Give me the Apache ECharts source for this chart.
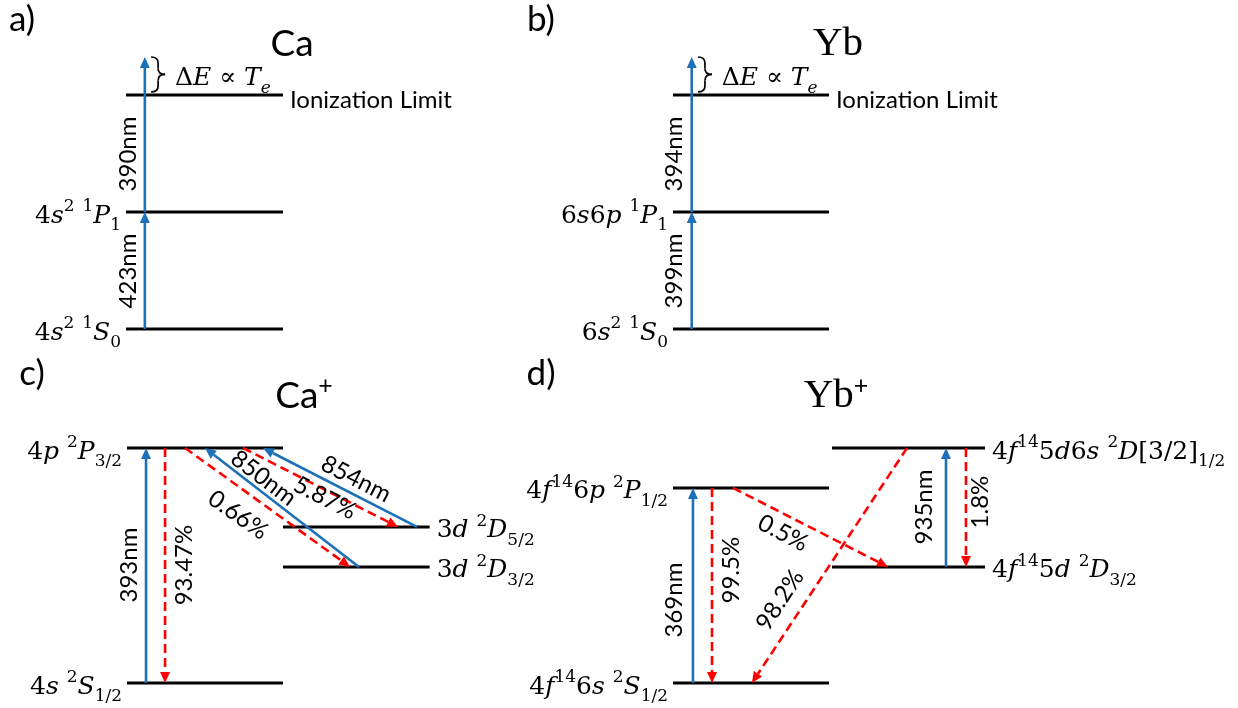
<!DOCTYPE html>
<html>
<head>
<meta charset="utf-8">
<script src="https://cdn.jsdelivr.net/npm/echarts@6/dist/echarts.min.js"></script>
<style>
  html, body { margin: 0; padding: 0; background: #fff; }
  #chart { width: 1238px; height: 708px; }
</style>
</head>
<body>
<div id="chart"></div>
<script>
// ---------------- level data (schematic energies, relative units) ----------------
// a) neutral Ca, two-step photo-ionization
const caTerms = ['4s^{2} ^{1}S_{0}', '4s^{2} ^{1}P_{1}', 'Ionization Limit'];
const caEnergy = [0, 1, 2];
const caPumps = ['423nm', '390nm'];

// b) neutral Yb, two-step photo-ionization
const ybTerms = ['6s^{2} ^{1}S_{0}', '6s6p ^{1}P_{1}', 'Ionization Limit'];
const ybEnergy = [0, 1, 2];
const ybPumps = ['399nm', '394nm'];

// energy reached by the second photon, just above the limit
const continuumEnergy = 2.325;

// c) Ca+ cooling and repumping scheme
const caIonTerms = ['4s ^{2}S_{1/2}', '4p ^{2}P_{3/2}', '3d ^{2}D_{5/2}', '3d ^{2}D_{3/2}'];
const caIonEnergy = [0, 1, 0.664, 0.494];
const caIonLasers = ['393nm', '850nm', '854nm'];
const caIonBranching = ['93.47%', '0.66%', '5.87%'];

// d) Yb+ cooling and repumping scheme
const ybIonTerms = ['4f^{14}6s ^{2}S_{1/2}', '4f^{14}6p ^{2}P_{1/2}', '4f^{14}5d6s ^{2}D[3/2]_{1/2}', '4f^{14}5d ^{2}D_{3/2}'];
const ybIonEnergy = [0, 0.83, 1, 0.494];
const ybIonLasers = ['369nm', '935nm'];
const ybIonBranching = ['99.5%', '0.5%', '98.2%', '1.8%'];

// ---------------- styling ----------------
const SERIF = '"DejaVu Serif", serif';
const SANS = 'Lato, "Open Sans", sans-serif';
const BLUE = '#1d71b8';
const RED = '#ff0000';
const SANS_FONT = '24px ' + SANS;
const MATH_FONT = '25px ' + SERIF;

// term symbols: letters italic, digits upright, ^{..} superscript, _{..} subscript
const MATH_RICH = {
  mr: { fontFamily: SERIF, fontSize: 25, lineHeight: 36, fill: '#000' },
  mi: { fontFamily: SERIF, fontSize: 25, lineHeight: 36, fontStyle: 'italic', fill: '#000' },
  sr: { fontFamily: SERIF, fontSize: 17, lineHeight: 19, verticalAlign: 'top', fill: '#000' },
  si: { fontFamily: SERIF, fontSize: 17, lineHeight: 19, verticalAlign: 'top', fontStyle: 'italic', fill: '#000' },
  br: { fontFamily: SERIF, fontSize: 17, lineHeight: 19, verticalAlign: 'bottom', fill: '#000' },
  bi: { fontFamily: SERIF, fontSize: 17, lineHeight: 19, verticalAlign: 'bottom', fontStyle: 'italic', fill: '#000' }
};

function mathText(src) {
  const toks = [];
  let mode = 'm';
  for (let i = 0; i < src.length; i++) {
    const c = src[i];
    if ((c === '^' || c === '_') && src[i + 1] === '{') { mode = c === '^' ? 's' : 'b'; i++; continue; }
    if (c === '}' && mode !== 'm') { mode = 'm'; continue; }
    const style = mode + (/[A-Za-z]/.test(c) ? 'i' : 'r');
    const last = toks[toks.length - 1];
    if (last && last.s === style) last.t += c; else toks.push({ s: style, t: c });
  }
  return toks.map(t => '{' + t.s + '|' + t.t + '}').join('');
}

// ---------------- panel layouts (x in units of one level width) ----------------
const panels = [
  { // a) Ca
    grid: { left: 126, top: 95, width: 157, height: 234 }, y: [0, 2],
    levels: [
      { x: [0, 1], E: caEnergy[0], term: caTerms[0], side: 'left' },
      { x: [0, 1], E: caEnergy[1], term: caTerms[1], side: 'left' },
      { x: [0, 1], E: caEnergy[2], term: caTerms[2], side: 'right', sans: true }
    ],
    pumps: [[0.12, caEnergy[0], 0.12, caEnergy[1]], [0.12, caEnergy[1], 0.12, continuumEnergy]],
    decays: [],
    texts: [
      { text: caPumps[0], at: [0.013, 0.496], rot: 90 },
      { text: caPumps[1], at: [0.013, 1.496], rot: 90 }
    ],
    brace: [0.16, 2.026, continuumEnergy], deltaE: [0.312, 2.14]
  },
  { // b) Yb
    grid: { left: 673, top: 95, width: 156, height: 234 }, y: [0, 2],
    levels: [
      { x: [0, 1], E: ybEnergy[0], term: ybTerms[0], side: 'left' },
      { x: [0, 1], E: ybEnergy[1], term: ybTerms[1], side: 'left' },
      { x: [0, 1], E: ybEnergy[2], term: ybTerms[2], side: 'right', sans: true }
    ],
    pumps: [[0.12, ybEnergy[0], 0.12, ybEnergy[1]], [0.12, ybEnergy[1], 0.12, continuumEnergy]],
    decays: [],
    texts: [
      { text: ybPumps[0], at: [0.006, 0.496], rot: 90 },
      { text: ybPumps[1], at: [0.006, 1.496], rot: 90 }
    ],
    brace: [0.16, 2.026, continuumEnergy], deltaE: [0.312, 2.14]
  },
  { // c) Ca+
    grid: { left: 127, top: 448, width: 156, height: 235 }, y: [0, 1],
    levels: [
      { x: [0, 1], E: caIonEnergy[0], term: caIonTerms[0], side: 'left' },
      { x: [0, 1], E: caIonEnergy[1], term: caIonTerms[1], side: 'left' },
      { x: [1, 1.94], E: caIonEnergy[2], term: caIonTerms[2], side: 'right' },
      { x: [1, 1.94], E: caIonEnergy[3], term: caIonTerms[3], side: 'right' }
    ],
    pumps: [
      [0.122, caIonEnergy[0], 0.122, caIonEnergy[1]],
      [1.487, caIonEnergy[3], 0.5, caIonEnergy[1]],
      [1.859, caIonEnergy[2], 0.872, caIonEnergy[1]]
    ],
    decays: [
      [0.244, caIonEnergy[1], 0.244, caIonEnergy[0]],
      [0.372, caIonEnergy[1], 1.43, caIonEnergy[3]],
      [0.744, caIonEnergy[1], 1.737, caIonEnergy[2]]
    ],
    texts: [
      { text: caIonLasers[0], at: [0.013, 0.502], rot: 90 },
      { text: caIonBranching[0], at: [0.369, 0.502], rot: 90 },
      { text: caIonBranching[1], at: [0.712, 0.715], rot: -35 },
      { text: caIonLasers[1], at: [0.875, 0.872], rot: -37 },
      { text: caIonBranching[2], at: [1.269, 0.787], rot: -27 },
      { text: caIonLasers[2], at: [1.468, 0.868], rot: -27 }
    ]
  },
  { // d) Yb+
    grid: { left: 673, top: 448, width: 156, height: 235 }, y: [0, 1],
    levels: [
      { x: [0, 1], E: ybIonEnergy[0], term: ybIonTerms[0], side: 'left' },
      { x: [0, 1], E: ybIonEnergy[1], term: ybIonTerms[1], side: 'left' },
      { x: [1.019, 2.0], E: ybIonEnergy[2], term: ybIonTerms[2], side: 'right' },
      { x: [1.019, 2.0], E: ybIonEnergy[3], term: ybIonTerms[3], side: 'right' }
    ],
    pumps: [
      [0.128, ybIonEnergy[0], 0.128, ybIonEnergy[1]],
      [1.75, ybIonEnergy[3], 1.75, ybIonEnergy[2]]
    ],
    decays: [
      [0.25, ybIonEnergy[1], 0.25, ybIonEnergy[0]],
      [0.385, ybIonEnergy[1], 1.378, ybIonEnergy[3]],
      [1.5, ybIonEnergy[2], 0.506, ybIonEnergy[0]],
      [1.878, ybIonEnergy[2], 1.878, ybIonEnergy[3]]
    ],
    texts: [
      { text: ybIonLasers[0], at: [0.006, 0.353], rot: 90 },
      { text: ybIonBranching[0], at: [0.372, 0.48], rot: 90 },
      { text: ybIonBranching[1], at: [0.705, 0.638], rot: -27 },
      { text: ybIonBranching[2], at: [0.686, 0.353], rot: 57 },
      { text: ybIonLasers[1], at: [1.609, 0.749], rot: 90 },
      { text: ybIonBranching[3], at: [1.968, 0.77], rot: 90 }
    ]
  }
];

// ---------------- series builders ----------------
function levelSeries(i, p) {
  return {
    type: 'custom', coordinateSystem: 'cartesian2d', xAxisIndex: i, yAxisIndex: i,
    silent: true, clip: false,
    data: p.levels.map(l => [l.x[0], l.x[1], l.E]),
    renderItem(params, api) {
      const a = api.coord([api.value(0), api.value(2)]);
      const b = api.coord([api.value(1), api.value(2)]);
      return { type: 'line', shape: { x1: a[0], y1: a[1], x2: b[0], y2: b[1] },
        style: { stroke: '#000', lineWidth: 3 } };
    }
  };
}

function arrowSeries(i, rows, color, dashed) {
  return {
    type: 'custom', coordinateSystem: 'cartesian2d', xAxisIndex: i, yAxisIndex: i,
    silent: true, clip: false,
    data: rows,
    renderItem(params, api) {
      const a = api.coord([api.value(0), api.value(1)]);
      const b = api.coord([api.value(2), api.value(3)]);
      const dx = b[0] - a[0], dy = b[1] - a[1];
      const len = Math.hypot(dx, dy), ux = dx / len, uy = dy / len;
      const L = 11, W = 5;
      const bx = b[0] - ux * L, by = b[1] - uy * L;
      return { type: 'group', children: [
        { type: 'line', shape: { x1: a[0], y1: a[1], x2: bx, y2: by },
          style: { stroke: color, lineWidth: 2.6, lineDash: dashed ? [9, 5] : null } },
        { type: 'polygon', shape: { points: [[b[0], b[1]], [bx - uy * W, by + ux * W], [bx + uy * W, by - ux * W]] },
          style: { fill: color } }
      ] };
    }
  };
}

function textSeries(i, items) {
  return {
    type: 'custom', coordinateSystem: 'cartesian2d', xAxisIndex: i, yAxisIndex: i,
    silent: true, clip: false,
    data: items.map(t => [t.at[0], t.at[1]]),
    renderItem(params, api) {
      const t = items[params.dataIndex];
      const p = api.coord([api.value(0), api.value(1)]);
      return { type: 'text', x: p[0] + (t.dx || 0), y: p[1] + (t.dy || 0),
        rotation: (t.rot || 0) * Math.PI / 180,
        style: { text: t.text, rich: t.rich, font: t.font || SANS_FONT,
          align: t.align || 'center', verticalAlign: 'middle', fill: '#000' } };
    }
  };
}

function braceSeries(i, p) {
  return {
    type: 'custom', coordinateSystem: 'cartesian2d', xAxisIndex: i, yAxisIndex: i,
    silent: true, clip: false,
    data: [p.brace],
    renderItem(params, api) {
      const bot = api.coord([api.value(0), api.value(1)]);
      const top = api.coord([api.value(0), api.value(2)]);
      const x = bot[0], yB = bot[1], yT = top[1], yM = (yB + yT) / 2, w = 14, r = 6, xm = x + w / 2;
      const st = { stroke: '#000', lineWidth: 1.7, fill: null };
      return { type: 'group', children: [
        { type: 'bezierCurve', shape: { x1: x, y1: yT, cpx1: xm, cpy1: yT, x2: xm, y2: yT + r }, style: st },
        { type: 'line', shape: { x1: xm, y1: yT + r, x2: xm, y2: yM - r }, style: st },
        { type: 'bezierCurve', shape: { x1: xm, y1: yM - r, cpx1: xm, cpy1: yM, x2: x + w, y2: yM }, style: st },
        { type: 'bezierCurve', shape: { x1: x + w, y1: yM, cpx1: xm, cpy1: yM, x2: xm, y2: yM + r }, style: st },
        { type: 'line', shape: { x1: xm, y1: yM + r, x2: xm, y2: yB - r }, style: st },
        { type: 'bezierCurve', shape: { x1: xm, y1: yB - r, cpx1: xm, cpy1: yB, x2: x, y2: yB }, style: st }
      ] };
    }
  };
}

// ---------------- assemble ----------------
const grids = [], xAxes = [], yAxes = [], series = [];
panels.forEach((p, i) => {
  grids.push(Object.assign({ containLabel: false }, p.grid));
  xAxes.push({ type: 'value', gridIndex: i, min: 0, max: 1, show: false });
  yAxes.push({ type: 'value', gridIndex: i, min: p.y[0], max: p.y[1], show: false });

  series.push(levelSeries(i, p));
  series.push(arrowSeries(i, p.pumps, BLUE, false));
  series.push(arrowSeries(i, p.decays, RED, true));

  const texts = p.texts.map(t => Object.assign({}, t));
  p.levels.forEach(l => {
    const side = l.side === 'left';
    const item = { at: [side ? l.x[0] : l.x[1], l.E], align: side ? 'right' : 'left', dx: side ? -5 : 7, dy: 4 };
    if (l.sans) { item.text = l.term; item.font = SANS_FONT; item.dy = 5; }
    else { item.text = mathText(l.term); item.rich = MATH_RICH; item.font = MATH_FONT; }
    texts.push(item);
  });
  if (p.deltaE) {
    texts.push({ at: p.deltaE, align: 'left', font: MATH_FONT, rich: MATH_RICH,
      text: '{mr|Δ}{mi|E}{mr| ∝ }{mi|T}{bi|e}' });
    series.push(braceSeries(i, p));
  }
  series.push(textSeries(i, texts));
});

const titleRich = {
  t: { fontFamily: SANS, fontSize: 37, lineHeight: 46, fill: '#000' },
  ts: { fontFamily: '"Liberation Serif", serif', fontSize: 41, lineHeight: 46, fill: '#000' },
  p: { fontFamily: SANS, fontSize: 25, lineHeight: 26, verticalAlign: 'top', fill: '#000' }
};
function label(text, x, y, font) {
  return { type: 'text', x: x, y: y, silent: true,
    style: { text: text, font: font, align: 'center', verticalAlign: 'middle', fill: '#000', rich: titleRich } };
}

const chart = echarts.init(document.getElementById('chart'), null, { renderer: 'canvas' });
chart.setOption({
  backgroundColor: '#fff',
  animation: false,
  grid: grids, xAxis: xAxes, yAxis: yAxes, series: series,
  graphic: [
    label('a)', 22, 20, '35px ' + SANS),
    label('b)', 541, 20, '35px ' + SANS),
    label('c)', 32, 374, '35px ' + SANS),
    label('d)', 541, 374, '35px ' + SANS),
    label('{t|Ca}', 292, 44, '37px ' + SANS),
    label('{ts|Yb}', 838, 44, '41px serif'),
    label('{t|Ca}{p|+}', 304, 396, '37px ' + SANS),
    label('{ts|Yb}{p|+}', 836, 396, '41px serif')
  ]
});
</script>
</body>
</html>
